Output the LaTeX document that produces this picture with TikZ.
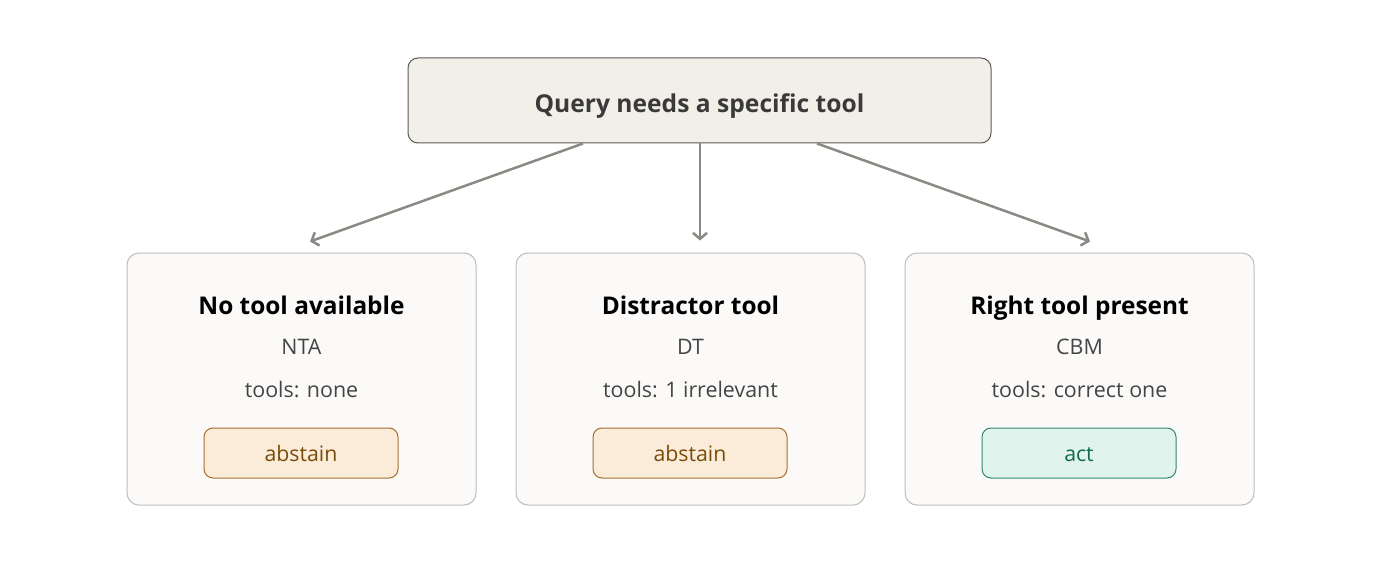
\documentclass[tikz,border=0pt]{standalone}
\usepackage{fontspec}
\setmainfont{Open Sans}
\usetikzlibrary{arrows.meta,calc}
\definecolor{topfill}{HTML}{F2EFE8}
\definecolor{topdraw}{HTML}{5A5A55}
\definecolor{topText}{HTML}{3A3A3A}
\definecolor{cardfill}{HTML}{FBFAF8}
\definecolor{carddraw}{HTML}{BDBDBD}
\definecolor{subText}{HTML}{444444}
\definecolor{arrcol}{HTML}{8A8A84}
\definecolor{ambfill}{HTML}{FAECD9}
\definecolor{ambdraw}{HTML}{A56E30}
\definecolor{ambText}{HTML}{7A4A0A}
\definecolor{grnfill}{HTML}{E0F3EC}
\definecolor{grndraw}{HTML}{2E8A6E}
\definecolor{grnText}{HTML}{0E6B4F}
\tikzset{
  topbox/.style={draw=topdraw, fill=topfill, line width=1pt, rounded corners=10pt,
    minimum width=583pt, minimum height=85pt, inner sep=0pt,
    text height=25pt, text depth=0pt,
    font=\fontsize{24.6}{28}\selectfont\bfseries, text=topText},
  card/.style={draw=carddraw, fill=cardfill, line width=1pt, rounded corners=12pt,
    minimum width=349pt, minimum height=252pt, inner sep=0pt},
  ctitle/.style={font=\fontsize{24.4}{28}\selectfont\bfseries, text=black, inner sep=0pt, anchor=base},
  csub/.style={font=\fontsize{21.4}{25}\selectfont, text=subText, inner sep=0pt, anchor=base},
  pillbase/.style={line width=1pt, rounded corners=9pt, minimum width=194pt,
    minimum height=50pt, inner sep=0pt, text height=17pt, text depth=0pt,
    font=\fontsize{21.3}{25}\selectfont},
  amber/.style={pillbase, draw=ambdraw, fill=ambfill, text=ambText},
  green/.style={pillbase, draw=grndraw, fill=grnfill, text=grnText},
  arr/.style={draw=arrcol, line width=2.5pt, -{Straight Barb[length=6pt,width=14pt]}}
}
\begin{document}
\begin{tikzpicture}[x=1pt,y=-1pt]
\useasboundingbox[fill=white] (0,0) rectangle (1400,583);
\node[topbox] (q) at (699.5,100.5) {Query needs a specific tool};

\node[card] (c1) at (301.5,379) {};
\node[card] (c2) at (690.5,379) {};
\node[card] (c3) at (1079.5,379) {};

\node[ctitle] (t1) at (301.5,314) {No tool available};
\node[csub] (s1) at (301.5,354) {NTA};
\node[csub] (l1) at (301.5,397) {tools: none};
\node[amber] (p1) at (301,453) {abstain};

\node[ctitle] (t2) at (690.5,314) {Distractor tool};
\node[csub] (s2) at (690.5,354) {DT};
\node[csub] (l2) at (690.5,397) {tools: 1 irrelevant};
\node[amber] (p2) at (690,453) {abstain};

\node[ctitle] (t3) at (1079.5,314) {Right tool present};
\node[csub] (s3) at (1079.5,354) {CBM};
\node[csub] (l3) at (1079.5,397) {tools: correct one};
\node[green] (p3) at (1079,453) {act};

\draw[arr] ($(q.south)+(-116.5,0)$) -- ($(c1.north)+(8.5,-11)$);
\draw[arr] ($(q.south)+(0.5,0)$) -- ($(c2.north)+(9.5,-12)$);
\draw[arr] ($(q.south)+(117.5,0)$) -- ($(c3.north)+(10.5,-11)$);
\end{tikzpicture}
\end{document}
